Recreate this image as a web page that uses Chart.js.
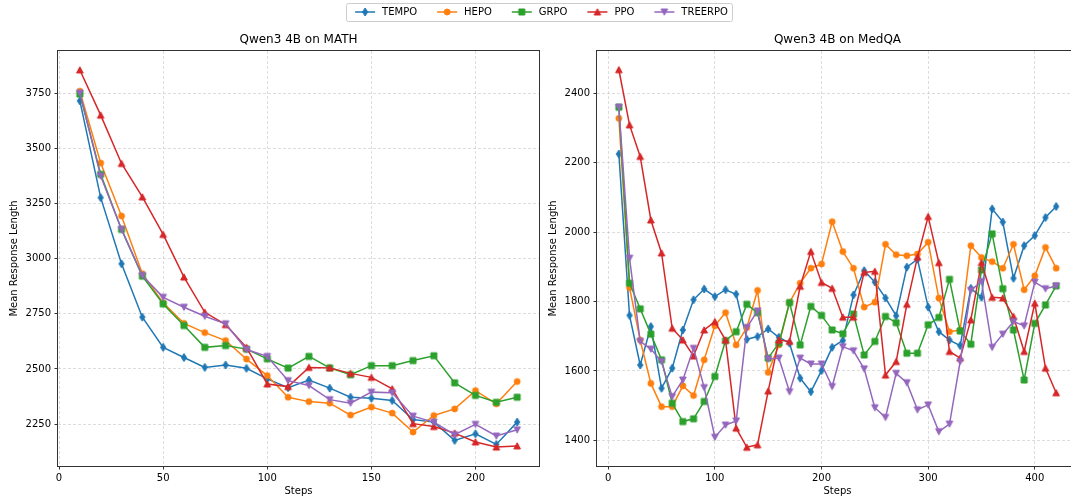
<!DOCTYPE html>
<html><head><meta charset="utf-8">
<script src="https://cdn.jsdelivr.net/npm/chart.js@4.4.1/dist/chart.umd.min.js"></script>
<style>
html,body{margin:0;padding:0;background:#fff;overflow:hidden;width:1071px;height:499px;}
#wrap{position:relative;width:1071px;height:499px;overflow:hidden;background:#fff;}
canvas{position:absolute;}
#cL{left:0;top:0;}
#cR{left:546px;top:0;}
#cLeg{left:5px;top:-11px;}
</style></head><body>
<div id="wrap">
<canvas id="cL" width="548" height="499"></canvas>
<canvas id="cR" width="542" height="499"></canvas>
<canvas id="cLeg" width="1071" height="120"></canvas>
</div>
<script>
// ---------- data ----------
const seriesNames = ['TEMPO', 'HEPO', 'GRPO', 'PPO', 'TREERPO'];
const seriesColors = ['#1f77b4', '#ff7f0e', '#2ca02c', '#d62728', '#9467bd'];
const seriesMarkers = ['thinDiamond', 'circle', 'square', 'triUp', 'triDown'];

const mathTitle = 'Qwen3 4B on MATH';
const mathSteps = [10, 20, 30, 40, 50, 60, 70, 80, 90, 100, 110, 120, 130, 140, 150, 160, 170, 180, 190, 200, 210, 220];
const mathTEMPO = [3716, 3277, 2977, 2735, 2598, 2552, 2507, 2518, 2503, 2455, 2415, 2450, 2413, 2372, 2367, 2357, 2271, 2259, 2176, 2206, 2158, 2259];
const mathHEPO = [3760, 3434, 3194, 2932, 2800, 2707, 2665, 2629, 2545, 2470, 2372, 2352, 2345, 2291, 2327, 2300, 2214, 2289, 2319, 2402, 2342, 2443];
const mathGRPO = [3747, 3383, 3133, 2921, 2795, 2697, 2598, 2606, 2590, 2546, 2504, 2557, 2505, 2474, 2515, 2515, 2538, 2560, 2437, 2380, 2349, 2372];
const mathPPO = [3856, 3651, 3432, 3280, 3110, 2917, 2757, 2701, 2598, 2432, 2420, 2507, 2505, 2480, 2462, 2410, 2252, 2239, 2209, 2169, 2146, 2151];
const mathTREERPO = [3752, 3375, 3133, 2924, 2825, 2780, 2739, 2705, 2588, 2557, 2447, 2425, 2361, 2345, 2395, 2392, 2286, 2259, 2202, 2249, 2196, 2224];
const mathXTicks = [0, 50, 100, 150, 200];
const mathYTicks = [2250, 2500, 2750, 3000, 3250, 3500, 3750];

const medTitle = 'Qwen3 4B on MedQA';
const medSteps = [10, 20, 30, 40, 50, 60, 70, 80, 90, 100, 110, 120, 130, 140, 150, 160, 170, 180, 190, 200, 210, 220, 230, 240, 250, 260, 270, 280, 290, 300, 310, 320, 330, 340, 350, 360, 370, 380, 390, 400, 410, 420];
const medTEMPO = [2225, 1760, 1617, 1728, 1550, 1608, 1718, 1805, 1836, 1814, 1834, 1821, 1691, 1699, 1721, 1697, 1680, 1579, 1540, 1601, 1668, 1688, 1819, 1889, 1856, 1810, 1759, 1899, 1922, 1784, 1713, 1689, 1673, 1838, 1812, 2067, 2029, 1867, 1961, 1990, 2042, 2074];
const medHEPO = [2328, 1840, 1689, 1564, 1497, 1497, 1557, 1529, 1632, 1730, 1768, 1675, 1725, 1832, 1596, 1675, 1797, 1853, 1896, 1908, 2030, 1944, 1896, 1784, 1798, 1965, 1935, 1932, 1937, 1971, 1810, 1713, 1718, 1961, 1927, 1915, 1896, 1965, 1834, 1874, 1956, 1896];
const medGRPO = [2360, 1853, 1779, 1706, 1632, 1507, 1454, 1462, 1512, 1584, 1687, 1713, 1792, 1768, 1637, 1680, 1797, 1675, 1786, 1760, 1718, 1707, 1764, 1646, 1685, 1757, 1739, 1651, 1651, 1733, 1754, 1864, 1715, 1677, 1891, 1995, 1837, 1718, 1574, 1737, 1790, 1845];
const medPPO = [2468, 2309, 2218, 2035, 1940, 1723, 1689, 1643, 1718, 1742, 1689, 1435, 1380, 1387, 1542, 1689, 1685, 1844, 1944, 1855, 1838, 1755, 1755, 1884, 1887, 1588, 1627, 1792, 1928, 2045, 1912, 1656, 1637, 1747, 1912, 1812, 1810, 1757, 1656, 1795, 1608, 1537];
const medTREERPO = [2360, 1925, 1685, 1663, 1627, 1526, 1574, 1665, 1552, 1409, 1444, 1456, 1725, 1773, 1634, 1637, 1540, 1637, 1620, 1620, 1555, 1670, 1658, 1606, 1494, 1466, 1593, 1566, 1488, 1502, 1425, 1447, 1627, 1832, 1858, 1668, 1706, 1742, 1730, 1856, 1837, 1845];
const medXTicks = [0, 100, 200, 300, 400];
const medYTicks = [1400, 1600, 1800, 2000, 2200, 2400];

const xLabel = 'Steps';
const yLabel = 'Mean Response Length';

// ---------- styling ----------
const FONT = "'DejaVu Sans', sans-serif";
const GRID = 'rgba(176,176,176,0.55)';
const SPINE = '#333';

function drawMarker(ctx, kind, cx, cy, color) {
  ctx.fillStyle = color;
  ctx.strokeStyle = color;
  ctx.lineWidth = 1;
  ctx.beginPath();
  if (kind === 'circle') {
    ctx.arc(cx, cy, 3, 0, Math.PI * 2);
  } else if (kind === 'square') {
    ctx.rect(cx - 3, cy - 3, 6, 6);
  } else if (kind === 'triUp') {
    ctx.moveTo(cx, cy - 3.2); ctx.lineTo(cx + 3.3, cy + 3); ctx.lineTo(cx - 3.3, cy + 3); ctx.closePath();
  } else if (kind === 'triDown') {
    ctx.moveTo(cx, cy + 3.2); ctx.lineTo(cx + 3.3, cy - 3); ctx.lineTo(cx - 3.3, cy - 3); ctx.closePath();
  } else if (kind === 'thinDiamond') {
    ctx.moveTo(cx, cy - 4); ctx.lineTo(cx + 2.6, cy); ctx.lineTo(cx, cy + 4); ctx.lineTo(cx - 2.6, cy); ctx.closePath();
  }
  ctx.fill();
  ctx.stroke();
}
function makeMarker(kind, color) {
  const c = document.createElement('canvas');
  c.width = 10; c.height = 10;
  drawMarker(c.getContext('2d'), kind, 5, 5, color);
  return c;
}
function makeLegendIcon(kind, color) {
  const c = document.createElement('canvas');
  c.width = 24; c.height = 10;
  const ctx = c.getContext('2d');
  ctx.strokeStyle = color; ctx.lineWidth = 1.5;
  ctx.beginPath(); ctx.moveTo(2, 5); ctx.lineTo(22, 5); ctx.stroke();
  drawMarker(ctx, kind, 12, 5, color);
  return c;
}
const markerImgs = seriesNames.map((_, i) => makeMarker(seriesMarkers[i], seriesColors[i]));
const legendIcons = seriesNames.map((_, i) => makeLegendIcon(seriesMarkers[i], seriesColors[i]));

const framePlugin = {
  id: 'frame',
  afterDatasetsDraw(chart) {
    const a = chart.chartArea, ctx = chart.ctx;
    ctx.save();
    ctx.strokeStyle = SPINE; ctx.lineWidth = 1;
    ctx.strokeRect(a.left - 0.5, a.top - 0.5, a.right - a.left + 1, a.bottom - a.top + 1);
    ctx.restore();
  }
};

function makeChart(canvas, title, steps, seriesArr, xr, yr, xTicks, yTicks, yAxisW, padRight, yTitlePad) {
  const tickFont = { family: FONT, size: 10 };
  return new Chart(canvas, {
    type: 'line',
    data: {
      datasets: seriesNames.map((n, i) => ({
        label: n,
        data: steps.map((s, j) => ({ x: s, y: seriesArr[i][j] })),
        borderColor: seriesColors[i],
        backgroundColor: seriesColors[i],
        borderWidth: 1.5,
        pointStyle: markerImgs[i],
        pointRadius: 3,
        pointHoverRadius: 3,
        tension: 0,
        fill: false,
        order: seriesNames.length - i
      }))
    },
    options: {
      responsive: false,
      animation: false,
      events: [],
      layout: { padding: { left: 0, right: padRight, top: 0, bottom: 0 } },
      plugins: {
        legend: { display: false },
        tooltip: { enabled: false },
        title: {
          display: true, text: title, fullSize: false, color: '#000',
          font: { family: FONT, size: 12, weight: 'normal' },
          padding: { top: 33, bottom: 3.6 }
        }
      },
      scales: {
        x: {
          type: 'linear', min: xr[0], max: xr[1],
          afterBuildTicks: ax => { ax.ticks = xTicks.map(v => ({ value: v })); },
          afterFit: ax => { ax.height = 33; },
          grid: { color: GRID, lineWidth: 0.8, tickColor: SPINE, tickLength: 3.5, tickWidth: 1 },
          border: { display: false, dash: [3, 2] },
          ticks: { color: '#000', font: tickFont, padding: 3, maxRotation: 0, callback: v => String(v) },
          title: { display: true, text: xLabel, color: '#000', font: tickFont, padding: { top: 0, bottom: 2 } }
        },
        y: {
          type: 'linear', min: yr[0], max: yr[1],
          afterBuildTicks: ax => { ax.ticks = yTicks.map(v => ({ value: v })); },
          afterFit: ax => { ax.width = yAxisW; },
          grid: { color: GRID, lineWidth: 0.8, tickColor: SPINE, tickLength: 3.5, tickWidth: 1 },
          border: { display: false, dash: [3, 2] },
          ticks: { color: '#000', font: tickFont, padding: 3.5, callback: v => String(v) },
          title: { display: true, text: yLabel, color: '#000', font: tickFont, padding: { top: yTitlePad, bottom: 0 } }
        }
      }
    },
    plugins: [framePlugin]
  });
}

makeChart(document.getElementById('cL'), mathTitle, mathSteps,
  [mathTEMPO, mathHEPO, mathGRPO, mathPPO, mathTREERPO],
  [-0.5, 230.5], [2060, 3942], mathXTicks, mathYTicks, 58, 9, 8.5);

makeChart(document.getElementById('cR'), medTitle, medSteps,
  [medTEMPO, medHEPO, medGRPO, medPPO, medTREERPO],
  [-10.5, 440.5], [1326, 2522], medXTicks, medYTicks, 51, 10, 1.5);

// ---------- shared legend ----------
const legendFrame = {
  id: 'legendFrame',
  beforeDraw(chart) {
    const hb = chart.legend && chart.legend.legendHitBoxes;
    if (!hb || !hb.length) return;
    const ctx = chart.ctx;
    const l = hb[0].left + 2 - 9;
    const r = hb[hb.length - 1].left + hb[hb.length - 1].width + 4;
    const cy = hb[0].top + hb[0].height / 2;
    const t = cy - 9, b = cy + 9;
    ctx.save();
    ctx.fillStyle = 'rgba(255,255,255,0.8)';
    ctx.strokeStyle = '#cccccc';
    ctx.lineWidth = 1;
    ctx.beginPath();
    ctx.roundRect(Math.round(l) + 0.5, Math.round(t) + 0.5, Math.round(r - l), Math.round(b - t), 2);
    ctx.fill(); ctx.stroke();
    ctx.restore();
  }
};

new Chart(document.getElementById('cLeg'), {
  type: 'line',
  data: {
    datasets: seriesNames.map((n, i) => ({ label: n, data: [], borderColor: seriesColors[i], backgroundColor: seriesColors[i] }))
  },
  options: {
    responsive: false,
    animation: false,
    events: [],
    scales: { x: { display: false }, y: { display: false } },
    plugins: {
      tooltip: { enabled: false },
      title: { display: false },
      legend: {
        display: true, position: 'top', align: 'center',
        labels: {
          usePointStyle: true, pointStyleWidth: 24, boxHeight: 10, padding: 18,
          color: '#000', font: { family: FONT, size: 10 },
          generateLabels: chart => chart.data.datasets.map((d, i) => ({
            text: d.label, pointStyle: legendIcons[i], fillStyle: d.backgroundColor,
            strokeStyle: d.borderColor, lineWidth: 0, hidden: false, datasetIndex: i, fontColor: '#000'
          }))
        }
      }
    }
  },
  plugins: [legendFrame]
});
</script>
</body></html>
